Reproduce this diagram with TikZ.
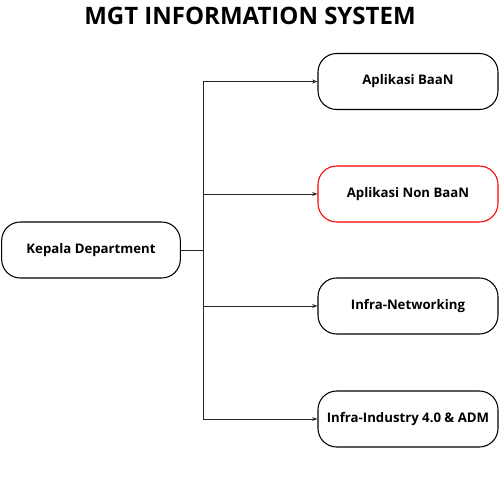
\documentclass[tikz,border=0pt]{standalone}
\usepackage{fontspec}
\setmainfont{Open Sans}
\usetikzlibrary{arrows.meta}
\begin{document}
\begin{tikzpicture}[x=0.75pt,y=-0.75pt,
  box/.style={draw=black, line width=0.8pt, rounded corners=14pt, minimum width=135pt, minimum height=42pt, font=\bfseries\fontsize{9.9}{12}\selectfont, inner sep=0pt},
  redbox/.style={box, draw=red},
  conn/.style={draw=black!85, line width=0.75pt},
  arr/.style={conn, -{Stealth[length=4pt,width=3pt]}}]
\useasboundingbox (0,0) rectangle (500,500);
\node[font=\bfseries\fontsize{18}{20}\selectfont] (title) at (250,16) {MGT INFORMATION SYSTEM};
\node[box, minimum width=134pt] (kepala) at (91,250) {Kepala Department};
\node[box] (baan) at (408,81.5) {Aplikasi BaaN};
\node[redbox] (nonbaan) at (408,194) {Aplikasi Non BaaN};
\node[box] (net) at (408,306) {Infra-Networking};
\node[box] (ind) at (408,419) {Infra-Industry 4.0 \& ADM};
\coordinate (j) at (203,250);
\draw[conn] (kepala.east) -- (j);
\draw[arr] (j) |- (baan.west);
\draw[arr] (j) |- (nonbaan.west);
\draw[arr] (j) |- (net.west);
\draw[arr] (j) |- (ind.west);
\end{tikzpicture}
\end{document}
